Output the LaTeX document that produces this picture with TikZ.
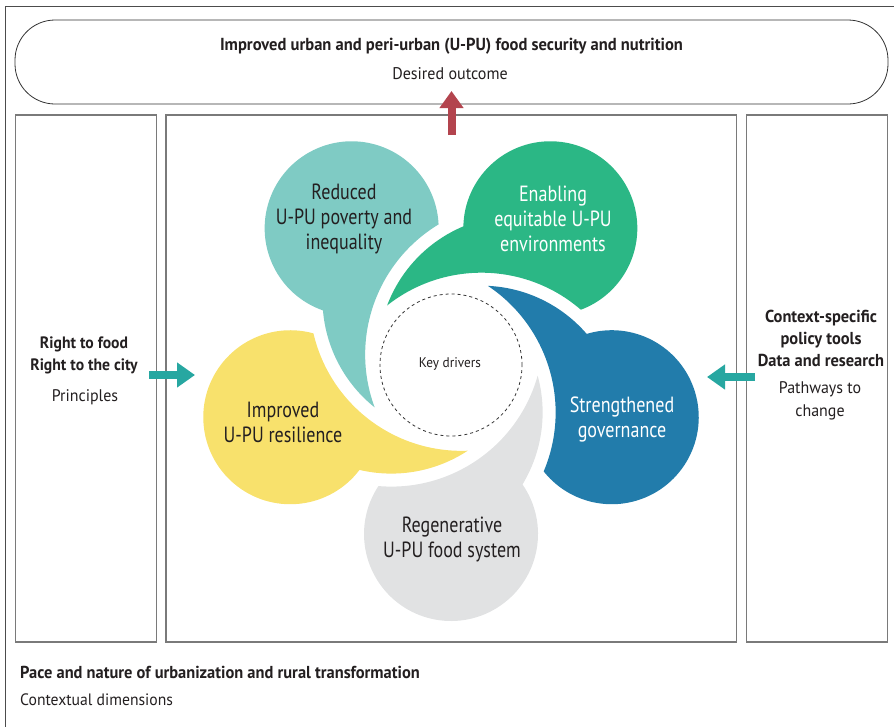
\documentclass[tikz,border=0pt]{standalone}
\usepackage{fontspec}
\setmainfont{PT Sans}[FakeStretch=0.82]
\newfontfamily\widefont{PT Sans}[FakeStretch=0.95]
\usetikzlibrary{arrows.meta}
\definecolor{txt}{HTML}{231F20}
\definecolor{pteal}{HTML}{7FCBC4}
\definecolor{pgreen}{HTML}{2BB785}
\definecolor{pblue}{HTML}{227CAB}
\definecolor{pgray}{HTML}{E1E2E3}
\definecolor{pyellow}{HTML}{F8E16C}
\definecolor{ared}{HTML}{B3444E}
\definecolor{ateal}{HTML}{27A7A1}
\definecolor{boxline}{HTML}{7A7A7A}
\begin{document}
\begin{tikzpicture}[x=1pt,y=1pt,
  boxstyle/.style={draw=boxline,line width=1.1pt},
  petaltext/.style={align=center,inner sep=0pt,text=txt,font=\fontsize{22}{25}\selectfont},
  sidebold/.style={align=center,inner sep=0pt,text=txt,font=\widefont\bfseries\fontsize{16.5}{22.5}\selectfont},
  sidereg/.style={align=center,inner sep=0pt,text=txt,font=\widefont\fontsize{16.8}{22.5}\selectfont},
  blockarrow/.style={line width=8pt,-{Triangle[length=18pt,width=24pt]}}]
\useasboundingbox (0,0) rectangle (894,-726);
% outer frame
\draw[draw=black!70,line width=1pt] (894,-6.7) -- (5.3,-6.7) -- (5.3,-730);
% top outcome box
\draw[draw=black!80,line width=0.8pt,rounded corners=40pt] (15,-20) rectangle (888,-104);
\node[inner sep=0pt,text=txt,font=\widefont\bfseries\fontsize{17.4}{20}\selectfont] (title) at (451.5,-46) {Improved urban and peri-urban (U-PU) food security and nutrition};
\node[inner sep=0pt,text=txt,font=\widefont\fontsize{16.9}{20}\selectfont] (subtitle) at (450,-74) {Desired outcome};
% three boxes
\draw[boxstyle] (15.3,-115) rectangle (156.3,-642);
\draw[boxstyle] (166,-115) rectangle (736.7,-642);
\draw[boxstyle] (746.7,-115) rectangle (887.3,-642);
% petals
\foreach \a/\c in {126/pteal,54/pgreen,-18/pblue,-90/pgray,-162/pyellow}{
  \fill[\c,shift={(451,-365)},rotate=\a] (10.59,86.67)
    arc[start angle=105.35,end angle=58.78,radius=139]
    arc[start angle=124.74,end angle=-123.46,radius=87]
    arc[start angle=-4.86,end angle=74.35,radius=152] -- cycle;
}
\node[draw=black!80,dashed,line width=0.8pt,circle,minimum size=142pt,inner sep=0pt] (core) at (451,-365) {};
\node[inner sep=0pt,text=txt,font=\widefont\fontsize{14}{16}\selectfont] (kd) at (450,-364) {Key drivers};
\node[petaltext] (p1) at (344,-219) {Reduced\\U-PU poverty and\\inequality};
\node[petaltext,text=white] (p2) at (553,-219) {Enabling\\equitable U-PU\\environments};
\node[petaltext,text=white] (p3) at (622,-419) {Strengthened\\governance};
\node[petaltext] (p4) at (452,-539.5) {Regenerative\\U-PU food system};
\node[petaltext] (p5) at (283,-422) {Improved\\U-PU resilience};
% side texts
\node[sidebold] (lb) at (84,-355.5) {Right to food\\Right to the city};
\node[sidereg] (lr) at (85,-397) {Principles};
\node[sidebold,font=\widefont\bfseries\fontsize{17.3}{22}\selectfont] (rb) at (821,-338) {Context-specific\\policy tools\\Data and research};
\node[sidereg] (rr) at (820,-400.6) {Pathways to\\change};
% bottom texts
\node[anchor=west,inner sep=0pt,text=txt,font=\widefont\bfseries\fontsize{17.3}{20}\selectfont] (ctx) at (20,-672) {Pace and nature of urbanization and rural transformation};
\node[anchor=west,inner sep=0pt,text=txt,font=\widefont\fontsize{16.5}{20}\selectfont] (ctxs) at (20,-700) {Contextual dimensions};
% arrows
\coordinate (ra1) at (451.5,-135);
\coordinate (ra2) at (451.5,-91);
\draw[blockarrow,draw=ared,-{Triangle[length=17pt,width=23pt]}] (ra1) -- (ra2);
\coordinate (la1) at (149,-375);
\coordinate (la2) at (195,-375);
\draw[blockarrow,draw=ateal] (la1) -- (la2);
\coordinate (rta1) at (755,-377);
\coordinate (rta2) at (707,-377);
\draw[blockarrow,draw=ateal] (rta1) -- (rta2);
\end{tikzpicture}
\end{document}
